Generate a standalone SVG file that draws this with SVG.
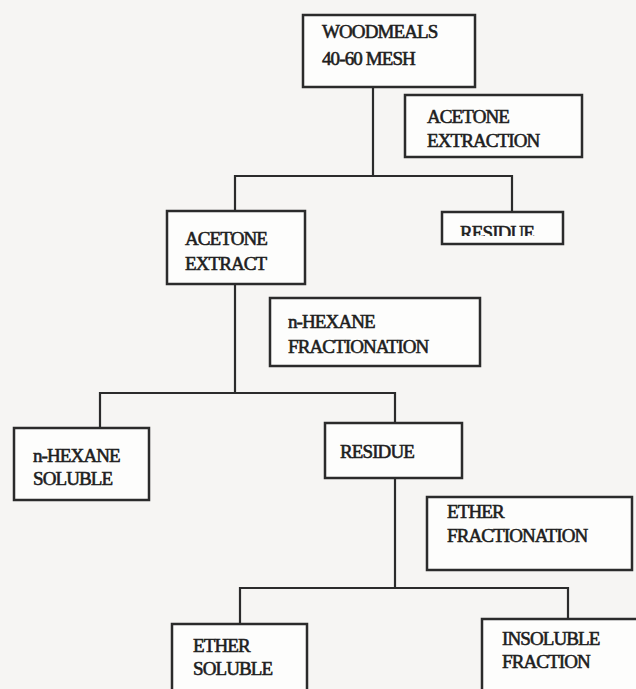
<svg xmlns="http://www.w3.org/2000/svg" width="636" height="689" viewBox="0 0 636 689">
<style>
.box{fill:#fdfdfc;stroke:#2b2b2b;stroke-width:2.5}
.t{font-family:"Liberation Serif","Times New Roman",serif;font-size:19px;fill:#1e1e1e;stroke:#1e1e1e;stroke-width:0.6;letter-spacing:-0.9px}
.c{fill:none;stroke:#2b2b2b;stroke-width:2.2}
</style>
<defs>
<clipPath id="clipRes"><rect x="442" y="212" width="121" height="24"/></clipPath>
</defs>
<rect width="636" height="689" fill="#f6f5f3"/>
<g id="connectors">
<polyline class="c" points="373,87 373,176"/>
<polyline class="c" points="235,211 235,176 512,176 512,212"/>
<polyline class="c" points="235,284 235,393"/>
<polyline class="c" points="100,428 100,393 395,393 395,423"/>
<polyline class="c" points="395,478 395,588"/>
<polyline class="c" points="240,624 240,588 568,588 568,619"/>
</g>
<g id="woodmeals">
<rect class="box" x="303" y="15" width="172" height="72"/>
<text class="t" x="322" y="38">WOODMEALS</text>
<text class="t" x="322" y="65">40-60 MESH</text>
</g>
<g id="acetone-extraction">
<rect class="box" x="405" y="95" width="177" height="62"/>
<text class="t" x="427" y="123">ACETONE</text>
<text class="t" x="427" y="147">EXTRACTION</text>
</g>
<g id="acetone-extract">
<rect class="box" x="167" y="211" width="138" height="73"/>
<text class="t" x="185" y="245">ACETONE</text>
<text class="t" x="185" y="270">EXTRACT</text>
</g>
<g id="residue-1">
<rect class="box" x="442" y="212" width="121" height="32"/>
<text class="t" x="460" y="239" clip-path="url(#clipRes)">RESIDUE</text>
</g>
<g id="hexane-fractionation">
<rect class="box" x="270" y="298" width="210" height="68"/>
<text class="t" x="288" y="328">n-HEXANE</text>
<text class="t" x="288" y="353">FRACTIONATION</text>
</g>
<g id="hexane-soluble">
<rect class="box" x="14" y="428" width="135" height="72"/>
<text class="t" x="33" y="462">n-HEXANE</text>
<text class="t" x="33" y="485">SOLUBLE</text>
</g>
<g id="residue-2">
<rect class="box" x="325" y="423" width="137" height="55"/>
<text class="t" x="340" y="458">RESIDUE</text>
</g>
<g id="ether-fractionation">
<rect class="box" x="427" y="497" width="205" height="73"/>
<text class="t" x="447" y="518">ETHER</text>
<text class="t" x="447" y="542">FRACTIONATION</text>
</g>
<g id="ether-soluble">
<rect class="box" x="172" y="624" width="135" height="80"/>
<text class="t" x="193" y="652">ETHER</text>
<text class="t" x="193" y="675">SOLUBLE</text>
</g>
<g id="insoluble-fraction">
<rect class="box" x="482" y="619" width="170" height="85"/>
<text class="t" x="502" y="645">INSOLUBLE</text>
<text class="t" x="502" y="668">FRACTION</text>
</g>
</svg>
